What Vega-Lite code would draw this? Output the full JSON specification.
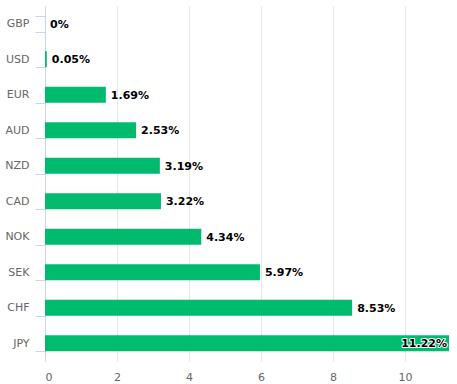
{
  "$schema": "https://vega.github.io/schema/vega-lite/v6.json",
  "width": 404,
  "height": 355,
  "autosize": "none",
  "padding": {"left": 45, "top": 6, "right": 8, "bottom": 23},
  "background": "white",
  "config": {"view": {"stroke": null}, "font": "DejaVu Sans"},
  "data": {"values": [
    {"currency": "GBP", "value": 0, "label": "0%"},
    {"currency": "USD", "value": 0.05, "label": "0.05%"},
    {"currency": "EUR", "value": 1.69, "label": "1.69%"},
    {"currency": "AUD", "value": 2.53, "label": "2.53%"},
    {"currency": "NZD", "value": 3.19, "label": "3.19%"},
    {"currency": "CAD", "value": 3.22, "label": "3.22%"},
    {"currency": "NOK", "value": 4.34, "label": "4.34%"},
    {"currency": "SEK", "value": 5.97, "label": "5.97%"},
    {"currency": "CHF", "value": 8.53, "label": "8.53%"},
    {"currency": "JPY", "value": 11.22, "label": "11.22%"}
  ]},
  "encoding": {
    "y": {"field": "currency", "type": "nominal", "sort": null,
      "scale": {"paddingInner": 0.55, "paddingOuter": 0.275},
      "axis": {"title": null, "domainColor": "#ccd6eb", "tickColor": "#ccd6eb", "tickSize": 10, "tickBand": "extent",
        "labelColor": "#666666", "labelFontSize": 11, "labelPadding": 6, "grid": false, "labelFont": "DejaVu Sans"}},
    "x": {"field": "value", "type": "quantitative",
      "scale": {"domain": [0, 11.22], "nice": false},
      "axis": {"title": null, "values": [0, 2, 4, 6, 8, 10], "grid": true, "gridColor": "#e6e6e6", "domain": false, "ticks": false,
        "labelColor": "#666666", "labelFontSize": 11, "labelPadding": 10, "labelFont": "DejaVu Sans"}}
  },
  "layer": [
    {"mark": {"type": "bar", "color": "#00bb6e"}},
    {"transform": [{"filter": "datum.currency != 'JPY'"}],
      "mark": {"type": "text", "align": "left", "dx": 5, "dy": 1, "fontWeight": "bold", "fontSize": 11, "color": "black", "stroke": "white", "strokeWidth": 2, "strokeJoin": "round"},
      "encoding": {"text": {"field": "label"}}},
    {"transform": [{"filter": "datum.currency != 'JPY'"}],
      "mark": {"type": "text", "align": "left", "dx": 5, "dy": 1, "fontWeight": "bold", "fontSize": 11, "color": "black"},
      "encoding": {"text": {"field": "label"}}},
    {"transform": [{"filter": "datum.currency == 'JPY'"}],
      "mark": {"type": "text", "align": "right", "dx": -2, "dy": 1, "fontWeight": "bold", "fontSize": 11, "color": "black", "stroke": "white", "strokeWidth": 2, "strokeJoin": "round"},
      "encoding": {"text": {"field": "label"}}},
    {"transform": [{"filter": "datum.currency == 'JPY'"}],
      "mark": {"type": "text", "align": "right", "dx": -2, "dy": 1, "fontWeight": "bold", "fontSize": 11, "color": "black"},
      "encoding": {"text": {"field": "label"}}}
  ]
}
